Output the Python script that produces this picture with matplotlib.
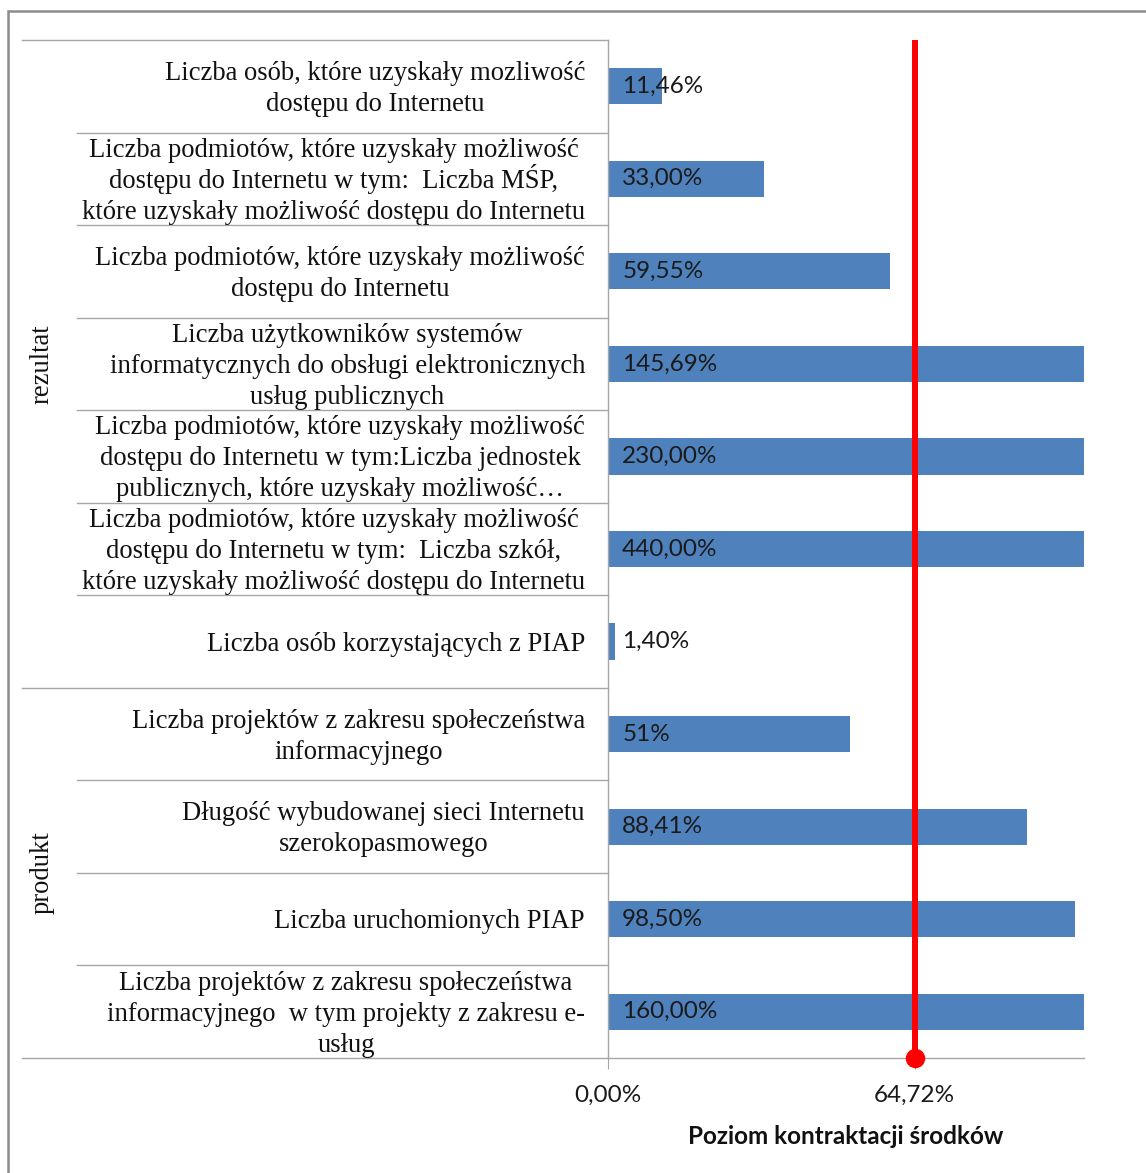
import matplotlib
matplotlib.use("Agg")
import matplotlib.pyplot as plt
import matplotlib.transforms as mtransforms
from matplotlib.patches import Rectangle

categories = [
    "Liczba osób, które uzyskały mozliwość\ndostępu do Internetu",
    "Liczba podmiotów, które uzyskały możliwość\ndostępu do Internetu w tym:  Liczba MŚP,\nktóre uzyskały możliwość dostępu do Internetu",
    "Liczba podmiotów, które uzyskały możliwość\ndostępu do Internetu",
    "Liczba użytkowników systemów\ninformatycznych do obsługi elektronicznych\nusług publicznych",
    "Liczba podmiotów, które uzyskały możliwość\ndostępu do Internetu w tym:Liczba jednostek\npublicznych, które uzyskały możliwość…",
    "Liczba podmiotów, które uzyskały możliwość\ndostępu do Internetu w tym:  Liczba szkół,\nktóre uzyskały możliwość dostępu do Internetu",
    "Liczba osób korzystających z PIAP",
    "Liczba projektów z zakresu społeczeństwa\ninformacyjnego",
    "Długość wybudowanej sieci Internetu\nszerokopasmowego",
    "Liczba uruchomionych PIAP",
    "Liczba projektów z zakresu społeczeństwa\ninformacyjnego  w tym projekty z zakresu e-\nusług",
]
values = [11.46, 33.00, 59.55, 145.69, 230.00, 440.00, 1.40, 51.0, 88.41, 98.50, 160.00]
value_labels = ["11,46%", "33,00%", "59,55%", "145,69%", "230,00%", "440,00%",
                "1,40%", "51%", "88,41%", "98,50%", "160,00%"]
groups = ["rezultat", "produkt"]
group_sizes = [7, 4]
reference_level = 64.72
tick_values = [0.0, 64.72]
tick_labels = ["0,00%", "64,72%"]
x_label = "Poziom kontraktacji środków"

W, H = 1146, 1173
DPI = 100
fig = plt.figure(figsize=(W / DPI, H / DPI), dpi=DPI)
fig.patch.set_facecolor("white")

left_px, right_px, top_px, bot_px = 608, 1084, 40, 1058
ax = fig.add_axes([left_px / W, 1 - bot_px / H, (right_px - left_px) / W, (bot_px - top_px) / H])

n = len(values)
ypos = list(range(n))
ax.barh(ypos, values, height=0.39, color="#4F81BD", zorder=2)
ax.set_xlim(0, 100.5)
ax.set_ylim(n - 0.5, -0.5)

sans = ["Lato", "DejaVu Sans"]
serif = ["Liberation Serif", "DejaVu Serif"]

for y, lab in zip(ypos, value_labels):
    ax.text(3.0, y, lab, ha="left", va="center", fontsize=17.5, family=sans,
            color="#1a1a1a", zorder=4)

# reference line
ax.plot([reference_level, reference_level], [-0.5, n - 0.5], color="#FF0000", lw=4.3,
        solid_capstyle="butt", zorder=3, clip_on=False)
ax.plot([reference_level], [n - 0.5], marker="o", color="#FF0000", markersize=13,
        zorder=5, clip_on=False)

# axes styling
for s in ["top", "right"]:
    ax.spines[s].set_visible(False)
ax.spines["left"].set_color("#A6A6A6")
ax.spines["bottom"].set_color("#A6A6A6")
ax.spines["left"].set_linewidth(1.0)
ax.spines["bottom"].set_linewidth(1.0)
ax.set_yticks([])
ax.set_xticks(tick_values)
ax.set_xticklabels(tick_labels, fontsize=17.5, family=sans, color="#1a1a1a")
ax.tick_params(axis="x", direction="out", length=8, color="#A6A6A6", pad=11)
ax.set_xlabel(x_label, fontsize=17.5, family=sans, fontweight="bold", labelpad=14,
              color="#111111")

# category labels and separators
trans = mtransforms.blended_transform_factory(ax.transAxes, ax.transData)
x_outer = (22 - left_px) / (right_px - left_px)
x_inner = (77 - left_px) / (right_px - left_px)
x_group = (42 - left_px) / (right_px - left_px)
text_right_px = 585
line_px = 31.0
baseline_shift_px = 9.0

renderer = fig.canvas.get_renderer()
for y, cat in zip(ypos, categories):
    lines = cat.split("\n")
    k = len(lines)
    widths = []
    for ln in lines:
        t = fig.text(0, 0, ln, fontsize=19.2, family=serif)
        widths.append(t.get_window_extent(renderer).width)
        t.remove()
    block_w = max(widths)
    cx_px = text_right_px - block_w / 2
    cx = (cx_px - left_px) / (right_px - left_px)
    for i, ln in enumerate(lines):
        dy_px = (i - (k - 1) / 2) * line_px + baseline_shift_px
        off = mtransforms.offset_copy(trans, fig=fig, x=0, y=-dy_px * 72 / DPI, units="points")
        ax.text(cx, y, ln, transform=off, ha="center", va="baseline",
                fontsize=19.2, family=serif, color="#111111")

start = 0
boundaries = {}
for g, size in zip(groups, group_sizes):
    boundaries[start - 0.5] = "outer"
    for k in range(start + 1, start + size):
        boundaries.setdefault(k - 0.5, "inner")
    center = start + (size - 1) / 2
    ax.text(x_group, center, g, transform=trans, ha="center", va="center",
            rotation=90, fontsize=19.2, family=serif, color="#111111")
    start += size
boundaries[n - 0.5] = "outer"

for yb, kind in boundaries.items():
    x0 = x_outer if kind == "outer" else x_inner
    ax.plot([x0, 0], [yb, yb], transform=trans, color="#A6A6A6", lw=1.0, clip_on=False,
            zorder=1)

# outer frame of the figure
fig.add_artist(Rectangle((8 / W, -0.1), 1.2, 1 - 11 / H + 0.1, transform=fig.transFigure,
                         fill=False, edgecolor="#8C8C8C", lw=1.8))

fig.savefig("out.png", dpi=DPI, facecolor="white")
